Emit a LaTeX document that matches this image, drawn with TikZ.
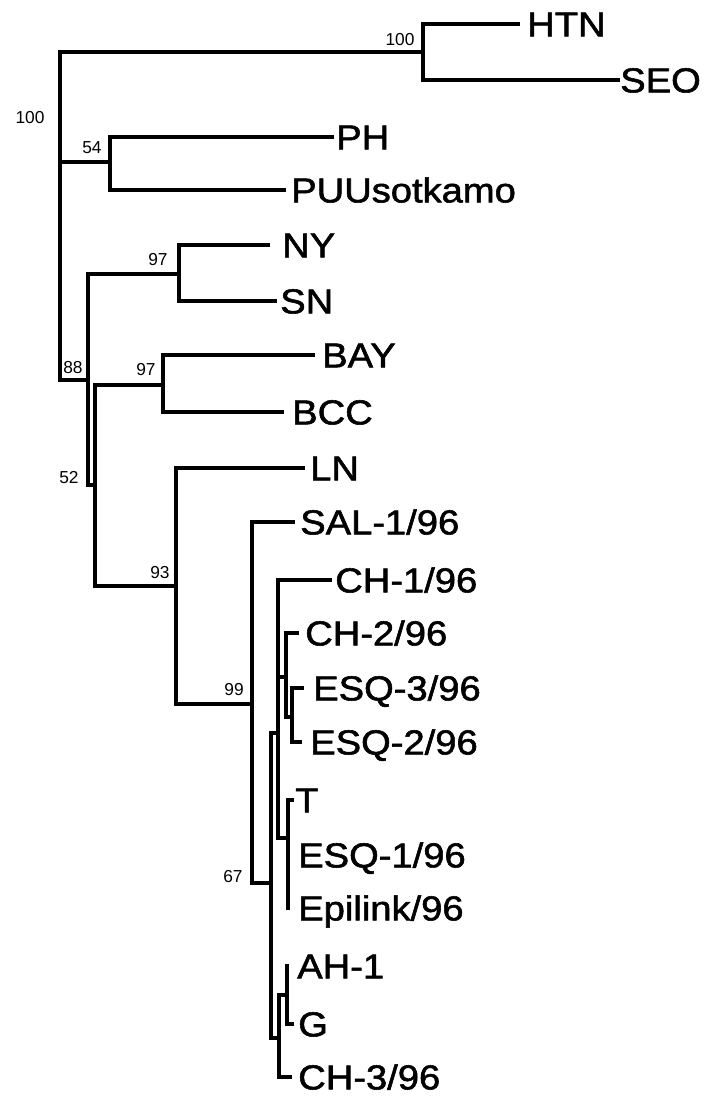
\documentclass[tikz,border=0pt]{standalone}
\usepackage{fontspec}
\setmainfont{Liberation Sans}
\newfontfamily\leaffont[FakeStretch=1.1,FakeBold=1.6]{Liberation Sans}
\begin{document}
\begin{tikzpicture}[x=0.75pt,y=-0.75pt,
  br/.style={line width=2.5pt, line join=miter, line cap=rect},
  leaf/.style={anchor=west, inner xsep=#1*0.75pt, inner ysep=0pt,
    font=\leaffont\fontsize{26}{29}\selectfont, text height=18.6pt, text depth=0pt},
  leaf/.default=6,
  bs/.style={font=\fontsize{13}{15}\selectfont, inner sep=0pt}]
\useasboundingbox (0,0) rectangle (709,1096);
% internal nodes
\coordinate (root) at (60,216);
\coordinate (n1) at (423,52);
\coordinate (n2) at (110,162);
\coordinate (n3) at (88,380);
\coordinate (n4) at (179,274);
\coordinate (n5) at (95,485);
\coordinate (n6) at (163,385);
\coordinate (n7) at (176,586);
\coordinate (n8) at (252,704);
\coordinate (n9) at (271,883);
\coordinate (n10) at (278,733);
\coordinate (n11) at (286,677);
\coordinate (n12) at (292,717);
\coordinate (n13) at (288,838);
\coordinate (n14) at (279,1038);
\coordinate (n15) at (287,995);
% leaves
\node[leaf=9] (htn) at (518,24) {HTN};
\node[leaf=2] (seo) at (618,80) {SEO};
\node[leaf=4] (ph) at (332,137) {PH};
\node[leaf=7] (puu) at (284,190) {PUUsotkamo};
\node[leaf=14] (ny) at (268,245) {NY};
\node[leaf=5] (sn) at (275,301) {SN};
\node[leaf=9] (bay) at (313,355) {BAY};
\node[leaf=10] (bcc) at (282,412) {BCC};
\node[leaf=7] (ln) at (303,468) {LN};
\node[leaf=7] (sal) at (293,522) {SAL-1/96};
\node[leaf=5] (ch1) at (330,580) {CH-1/96};
\node[leaf=8] (ch2) at (297,633) {CH-2/96};
\node[leaf=11] (esq3) at (302,688) {ESQ-3/96};
\node[leaf=10] (esq2) at (300,742) {ESQ-2/96};
\node[leaf=3] (t) at (292,800) {T};
\node[leaf=10] (esq1) at (288,855) {ESQ-1/96};
\node[leaf=10] (epi) at (288,908) {Epilink/96};
\node[leaf=10] (ah1) at (287,966) {AH-1};
\node[leaf=6] (g) at (292,1024) {G};
\node[leaf=8] (ch3) at (290,1077) {CH-3/96};
% bootstrap values
\node[bs] (b1) at (30,118) {100};
\node[bs] (b2) at (400,40) {100};
\node[bs] (b3) at (92,148) {54};
\node[bs] (b4) at (158,260) {97};
\node[bs] (b5) at (73,368) {88};
\node[bs] (b6) at (146,370) {97};
\node[bs] (b7) at (69,478) {52};
\node[bs] (b8) at (160,573) {93};
\node[bs] (b9) at (234,690) {99};
\node[bs] (b10) at (233,877) {67};
% branches
\draw[br] (root) |- (n1);
\draw[br] (root) |- (n2);
\draw[br] (root) |- (n3);
\draw[br] (n1) |- (htn);
\draw[br] (n1) |- (seo);
\draw[br] (n2) |- (ph);
\draw[br] (n2) |- (puu);
\draw[br] (n3) |- (n4);
\draw[br] (n3) |- (n5);
\draw[br] (n4) |- (ny);
\draw[br] (n4) |- (sn);
\draw[br] (n5) |- (n6);
\draw[br] (n5) |- (n7);
\draw[br] (n6) |- (bay);
\draw[br] (n6) |- (bcc);
\draw[br] (n7) |- (ln);
\draw[br] (n7) |- (n8);
\draw[br] (n8) |- (sal);
\draw[br] (n8) |- (n9);
\draw[br] (n9) |- (n10);
\draw[br] (n9) |- (n14);
\draw[br] (n10) |- (ch1);
\draw[br] (n10) |- (n11);
\draw[br] (n10) |- (n13);
\draw[br] (n11) |- (ch2);
\draw[br] (n11) |- (n12);
\draw[br] (n12) |- (esq3);
\draw[br] (n12) |- (esq2);
\draw[br] (n13) |- (t);
\draw[br] (n13) |- (esq1);
\draw[br] (n13) |- (epi);
\draw[br] (n14) |- (n15);
\draw[br] (n14) |- (ch3);
\draw[br] (n15) |- (ah1);
\draw[br] (n15) |- (g);
\end{tikzpicture}
\end{document}
